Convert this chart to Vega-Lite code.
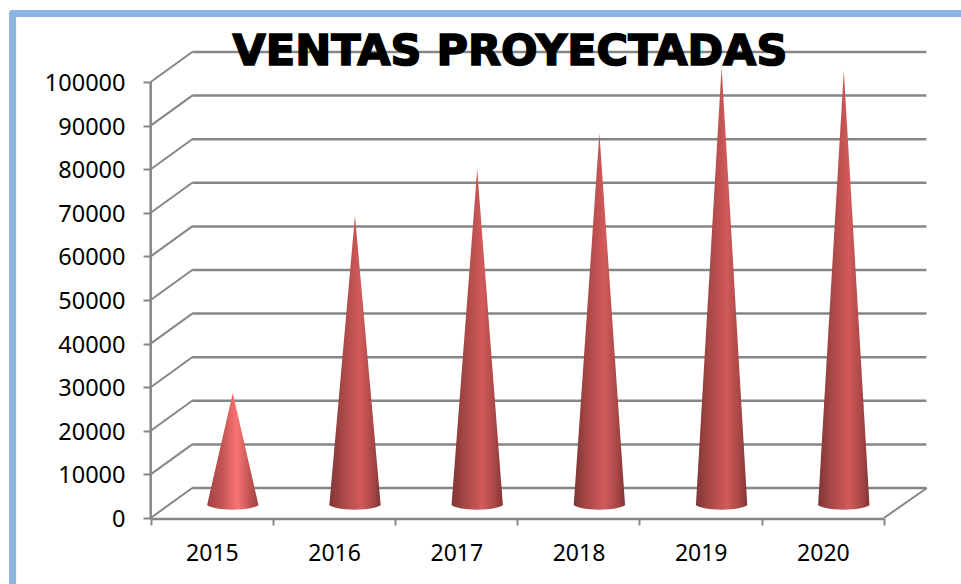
{
"$schema":"https://vega.github.io/schema/vega-lite/v6.json",
"width":961,"height":584,"padding":0,"autosize":{"type":"none"},
"background":"white",
"datasets":{
"uno":[{"n":1}],
"ticks":[{"v":0},{"v":10000},{"v":20000},{"v":30000},{"v":40000},{"v":50000},{"v":60000},{"v":70000},{"v":80000},{"v":90000},{"v":100000}],
"ventas":[{"anio":2015,"ventas":25700},{"anio":2016,"ventas":66400},{"anio":2017,"ventas":77000},{"anio":2018,"ventas":85300},{"anio":2019,"ventas":100500},{"anio":2020,"ventas":99600}],
"conos":[
{"anio":2015,"x":2014.79,"v":0},{"anio":2015,"x":2015,"v":25700},{"anio":2015,"x":2015.21,"v":0},
{"anio":2016,"x":2015.79,"v":0},{"anio":2016,"x":2016,"v":66400},{"anio":2016,"x":2016.21,"v":0},
{"anio":2017,"x":2016.79,"v":0},{"anio":2017,"x":2017,"v":77000},{"anio":2017,"x":2017.21,"v":0},
{"anio":2018,"x":2017.79,"v":0},{"anio":2018,"x":2018,"v":85300},{"anio":2018,"x":2018.21,"v":0},
{"anio":2019,"x":2018.79,"v":0},{"anio":2019,"x":2019,"v":100500},{"anio":2019,"x":2019.21,"v":0},
{"anio":2020,"x":2019.79,"v":0},{"anio":2020,"x":2020,"v":99600},{"anio":2020,"x":2020.21,"v":0}
]},
"encoding":{
"x":{"type":"quantitative","scale":{"domain":[2013.2668,2021.131],"nice":false,"zero":false},
 "axis":{"title":null,"orient":"bottom","offset":-66,"grid":false,"domain":false,"values":[2014.5,2015.5,2016.5,2017.5,2018.5,2019.5,2020.5],"labelExpr":"datum.value<2015?'':format(floor(datum.value),'d')","labelOffset":-61,"labelPadding":17,"tickSize":7,"tickWidth":2,"tickColor":"#868686","labelFont":"Noto Sans","labelFontSize":23,"labelColor":"#000000"}},
"y":{"type":"quantitative","scale":{"domain":[-15138,118807],"nice":false,"zero":false},
 "axis":{"title":null,"orient":"left","offset":-151,"grid":false,"domain":false,"values":[0,10000,20000,30000,40000,50000,60000,70000,80000,90000,100000],"format":"d","tickSize":8,"tickWidth":2,"tickColor":"#868686","labelPadding":18,"labelOffset":1.5,"labelFont":"Noto Sans","labelFontSize":23.5,"labelColor":"#000000"}}
},
"layer":[
{"data":{"name":"ticks"},"mark":{"type":"rule","color":"#868686","strokeWidth":2.5,"xOffset":41.5,"x2Offset":42.5,"yOffset":-30,"y2Offset":-30},
 "encoding":{"x":{"datum":2014.5},"x2":{"datum":2020.5},"y":{"field":"v","type":"quantitative"},"y2":{"field":"v"}}},
{"data":{"name":"ticks"},"mark":{"type":"rule","color":"#868686","strokeWidth":2,"x2Offset":41.5,"y2Offset":-30},
 "encoding":{"x":{"datum":2014.5},"x2":{"datum":2014.5},"y":{"field":"v","type":"quantitative"},"y2":{"field":"v"}}},
{"data":{"values":[{"v":0}]},"mark":{"type":"rule","color":"#868686","strokeWidth":2,"x2Offset":43,"y2Offset":-30},
 "encoding":{"x":{"datum":2020.5},"x2":{"datum":2020.5},"y":{"field":"v","type":"quantitative"},"y2":{"field":"v"}}},
{"data":{"values":[{"v":0}]},"mark":{"type":"rule","color":"#868686","strokeWidth":2.5,"yOffset":1,"y2Offset":1},
 "encoding":{"x":{"datum":2014.5},"x2":{"datum":2020.5},"y":{"field":"v","type":"quantitative"},"y2":{"field":"v"}}},
{"data":{"name":"uno"},"mark":{"type":"rule","color":"#868686","strokeWidth":2.5},"encoding":{"x":{"datum":2014.5},"y":{"datum":0},"y2":{"datum":100000}}},
{"data":{"name":"conos"},"transform":[{"filter":"datum.anio==2015"}],"mark":{"type":"area","xOffset":21,"yOffset":-13,"fill":{"gradient":"linear","x1":0,"x2":1,"y1":0,"y2":0,"stops":[{"offset":0,"color":"#a04444"},{"offset":0.3,"color":"#c65454"},{"offset":0.58,"color":"#fb7373"},{"offset":0.85,"color":"#bd5050"},{"offset":1,"color":"#a04444"}]}},"encoding":{"x":{"field":"x","type":"quantitative"},"y":{"field":"v","type":"quantitative"}}},
{"data":{"name":"conos"},"transform":[{"filter":"datum.anio==2016"}],"mark":{"type":"area","xOffset":21,"yOffset":-13,"fill":{"gradient":"linear","x1":0,"x2":1,"y1":0,"y2":0,"stops":[{"offset":0,"color":"#7f3535"},{"offset":0.25,"color":"#a84646"},{"offset":0.6,"color":"#d25a5a"},{"offset":0.85,"color":"#a84646"},{"offset":1,"color":"#7f3535"}]}},"encoding":{"x":{"field":"x","type":"quantitative"},"y":{"field":"v","type":"quantitative"}}},
{"data":{"name":"conos"},"transform":[{"filter":"datum.anio==2017"}],"mark":{"type":"area","xOffset":21,"yOffset":-13,"fill":{"gradient":"linear","x1":0,"x2":1,"y1":0,"y2":0,"stops":[{"offset":0,"color":"#7f3535"},{"offset":0.25,"color":"#a84646"},{"offset":0.6,"color":"#d25a5a"},{"offset":0.85,"color":"#a84646"},{"offset":1,"color":"#7f3535"}]}},"encoding":{"x":{"field":"x","type":"quantitative"},"y":{"field":"v","type":"quantitative"}}},
{"data":{"name":"conos"},"transform":[{"filter":"datum.anio==2018"}],"mark":{"type":"area","xOffset":21,"yOffset":-13,"fill":{"gradient":"linear","x1":0,"x2":1,"y1":0,"y2":0,"stops":[{"offset":0,"color":"#7f3535"},{"offset":0.25,"color":"#a84646"},{"offset":0.6,"color":"#d25a5a"},{"offset":0.85,"color":"#a84646"},{"offset":1,"color":"#7f3535"}]}},"encoding":{"x":{"field":"x","type":"quantitative"},"y":{"field":"v","type":"quantitative"}}},
{"data":{"name":"conos"},"transform":[{"filter":"datum.anio==2019"}],"mark":{"type":"area","xOffset":21,"yOffset":-13,"fill":{"gradient":"linear","x1":0,"x2":1,"y1":0,"y2":0,"stops":[{"offset":0,"color":"#7f3535"},{"offset":0.25,"color":"#a84646"},{"offset":0.6,"color":"#d25a5a"},{"offset":0.85,"color":"#a84646"},{"offset":1,"color":"#7f3535"}]}},"encoding":{"x":{"field":"x","type":"quantitative"},"y":{"field":"v","type":"quantitative"}}},
{"data":{"name":"conos"},"transform":[{"filter":"datum.anio==2020"}],"mark":{"type":"area","xOffset":21,"yOffset":-13,"fill":{"gradient":"linear","x1":0,"x2":1,"y1":0,"y2":0,"stops":[{"offset":0,"color":"#7f3535"},{"offset":0.25,"color":"#a84646"},{"offset":0.6,"color":"#d25a5a"},{"offset":0.85,"color":"#a84646"},{"offset":1,"color":"#7f3535"}]}},"encoding":{"x":{"field":"x","type":"quantitative"},"y":{"field":"v","type":"quantitative"}}},
{"data":{"name":"ventas"},"transform":[{"filter":"datum.anio!=2015"}],
 "mark":{"type":"point","filled":true,"size":2704,"opacity":1,"xOffset":21,"yOffset":-13,"shape":"M-1,0 C-0.7,0.24 0.7,0.24 1,0 Z","fill":{"gradient":"linear","x1":0,"x2":1,"y1":0,"y2":0,"stops":[{"offset":0,"color":"#7f3535"},{"offset":0.25,"color":"#a84646"},{"offset":0.6,"color":"#d25a5a"},{"offset":0.85,"color":"#a84646"},{"offset":1,"color":"#7f3535"}]}},
 "encoding":{"x":{"field":"anio","type":"quantitative"},"y":{"datum":0}}},
{"data":{"name":"ventas"},"transform":[{"filter":"datum.anio==2015"}],
 "mark":{"type":"point","filled":true,"size":2704,"opacity":1,"xOffset":21,"yOffset":-13,"shape":"M-1,0 C-0.7,0.24 0.7,0.24 1,0 Z","fill":{"gradient":"linear","x1":0,"x2":1,"y1":0,"y2":0,"stops":[{"offset":0,"color":"#a04444"},{"offset":0.3,"color":"#c65454"},{"offset":0.58,"color":"#fb7373"},{"offset":0.85,"color":"#bd5050"},{"offset":1,"color":"#a04444"}]}},
 "encoding":{"x":{"field":"anio","type":"quantitative"},"y":{"datum":0}}},
{"data":{"values":[{"titulo":"VENTAS PROYECTADAS"}]},"mark":{"type":"text","align":"left","baseline":"alphabetic","font":"DejaVu Sans","fontWeight":"bold","fontSize":43,"color":"#000000","stroke":"#000000","strokeWidth":1.6},
 "encoding":{"x":{"datum":2015.17},"y":{"datum":104000},"text":{"field":"titulo"}}},
{"data":{"name":"uno"},"mark":{"type":"rule","color":"#8db4e2","strokeWidth":7,"strokeCap":"round"},"encoding":{"x":{"datum":2013.37},"x2":{"datum":2021.131},"y":{"datum":115700}}},
{"data":{"name":"uno"},"mark":{"type":"rule","color":"#8db4e2","strokeWidth":7,"strokeCap":"round"},"encoding":{"x":{"datum":2013.37},"y":{"datum":115700},"y2":{"datum":-15138}}}
],
"config":{"view":{"stroke":null},"style":{"point":{"stroke":null}}}
}
